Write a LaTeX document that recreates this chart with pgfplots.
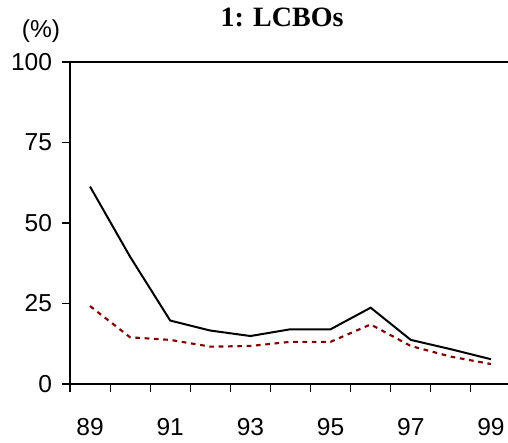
\documentclass[border=0pt]{standalone}
\usepackage{pgfplots}
\pgfplotsset{compat=1.18}
\usepackage{fontspec}
\setmainfont{Liberation Sans}
\newfontfamily\titlefont{Liberation Serif}
\definecolor{darkred}{RGB}{128,0,0}
\begin{document}
\begin{tikzpicture}
\begin{axis}[
    at={(0,0)}, anchor=south west,
    scale only axis,
    width=330.75pt, height=241.5pt,
    xmin=88.5, xmax=99.5,
    ymin=0, ymax=100,
    axis line style={line width=1.5pt},
    tick align=outside,
    xtick pos=bottom, ytick pos=left,
    xtick={88.5,89.5,...,98.5},
    xticklabels={},
    extra x ticks={89,91,93,95,97,99},
    extra x tick labels={89,91,93,95,97,99},
    extra x tick style={major tick length=0pt,
        xticklabel style={anchor=center, yshift=-32.25pt}},
    ytick={0,25,50,75,100},
    major tick length=6pt,
    tick style={line width=0.8pt, black},
    yticklabel style={anchor=east, xshift=-4pt},
    tick label style={font=\fontsize{18.4pt}{21pt}\selectfont},
    /pgf/number format/assume math mode=true,
    clip=false,
]
\addplot[black, line width=1.5pt] coordinates {
    (89,61.3) (90,39.5) (91,19.7) (92,16.6) (93,14.9) (94,17.0)
    (95,17.0) (96,23.7) (97,13.7) (98,10.8) (99,7.7)
};
\addplot[darkred, line width=1.6pt, dash pattern=on 3.5pt off 3.5pt] coordinates {
    (89,24.2) (90,14.5) (91,13.7) (92,11.6) (93,11.8) (94,13.1)
    (95,13.1) (96,18.5) (97,11.8) (98,8.5) (99,6.2)
};
\end{axis}
\node[font=\fontsize{18.4pt}{21pt}\selectfont] at (-21.75pt,264.75pt) {(\%)};
\node[anchor=base, font=\titlefont\bfseries\fontsize{21pt}{24pt}\selectfont] at (159pt,267.75pt) {1: LCBOs};
\pgfresetboundingbox
\path[use as bounding box] (-52.5pt,-44.25pt) rectangle (328.5pt,288pt);
\end{tikzpicture}
\end{document}
